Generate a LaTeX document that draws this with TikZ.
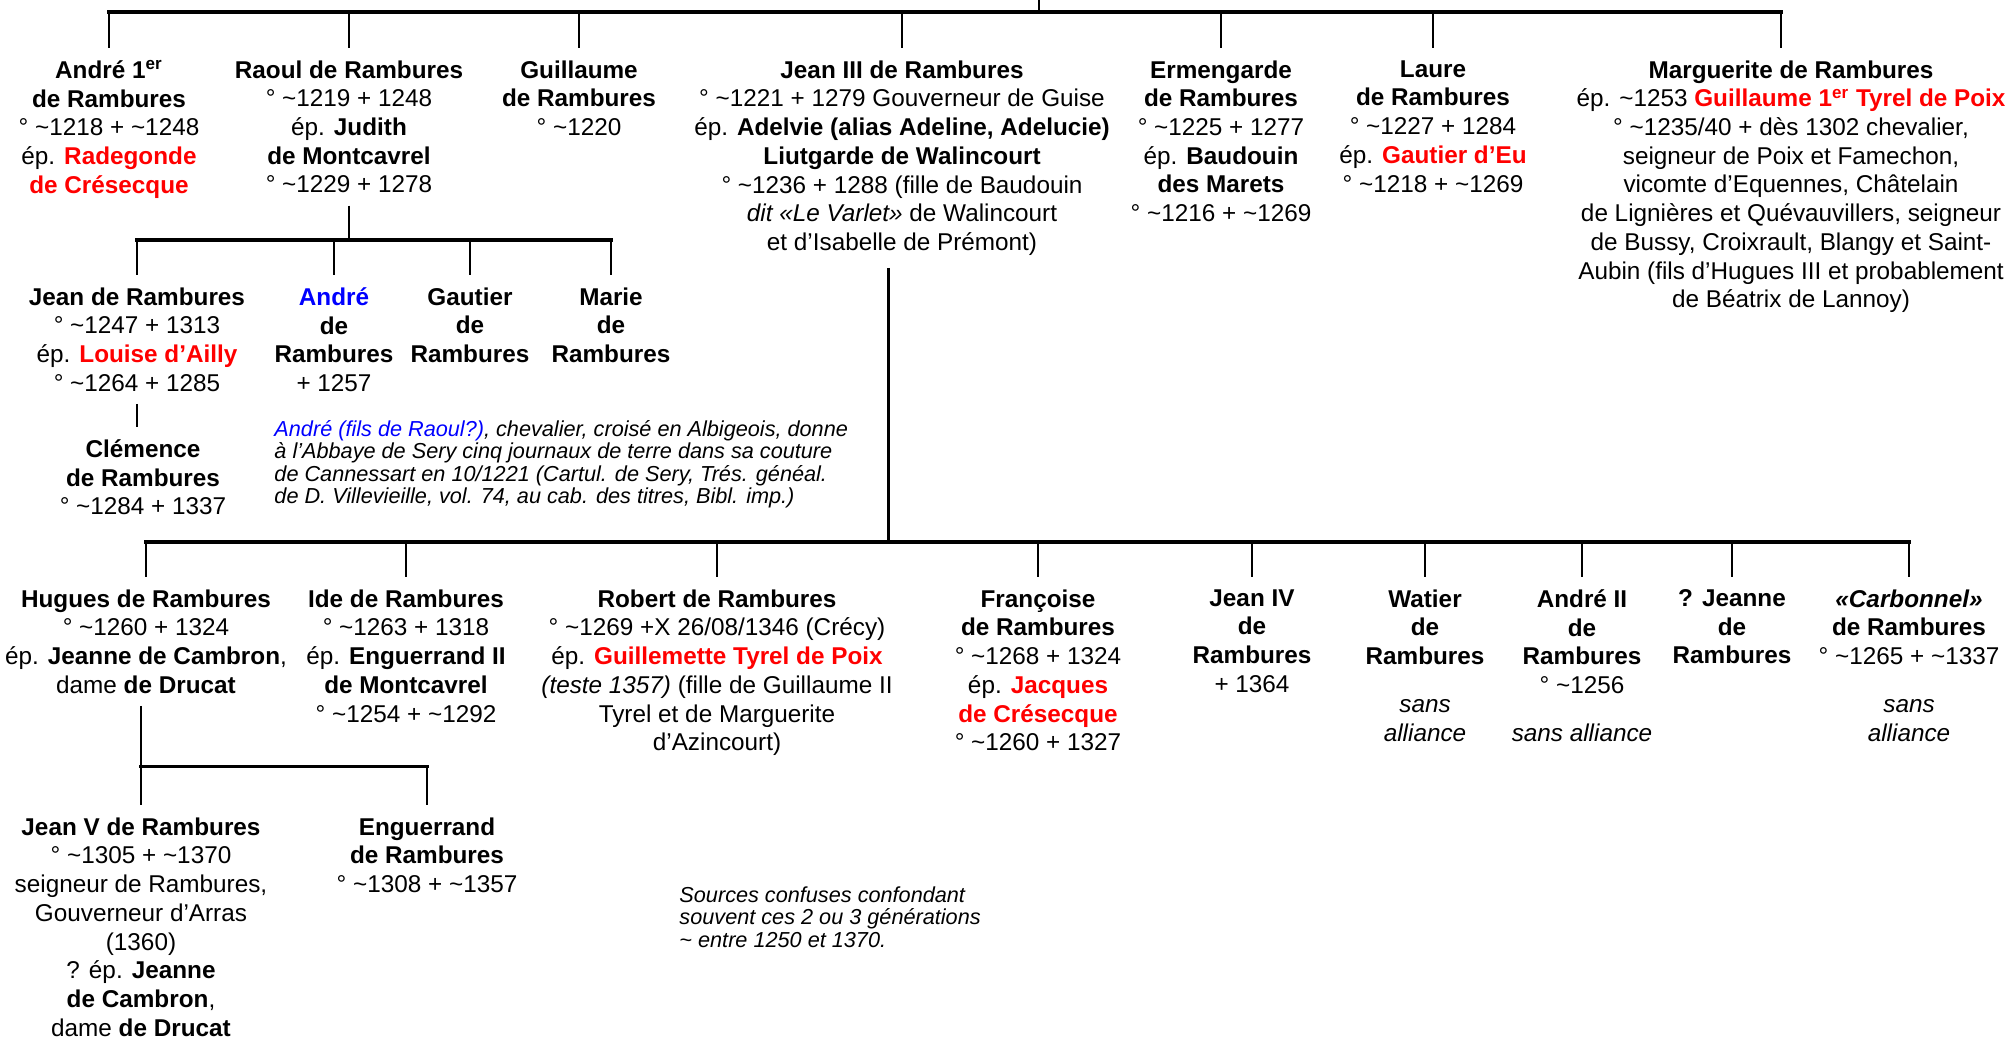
\documentclass[tikz,border=0pt]{standalone}
\usepackage{fontspec}
\setmainfont{Liberation Sans}
\usepackage{xcolor}
\usepackage{tikz}
\definecolor{spred}{HTML}{FF0000}
\definecolor{noteblue}{HTML}{0000FF}
\newcommand{\tld}{\textasciitilde}
\newcommand{\spouse}[1]{\textcolor{spred}{\bfseries #1}}
\tikzset{
  person/.style={anchor=north, align=center, inner xsep=0pt, inner ysep=0.18cm,
                 font=\fontsize{10.37}{12.26}\selectfont},
  note/.style={anchor=north west, align=left, inner sep=0pt,
               font=\fontsize{9.25}{9.57}\selectfont\itshape},
  bar/.style={line width=1.3pt, line cap=rect},
  link/.style={line width=1.1pt},
}

\begin{document}
\begin{tikzpicture}[x=0.015cm, y=-0.015cm]
  \useasboundingbox (0,0) rectangle (2007,1038);

  % -- first generation ---------------------------------------------------
  \node[person] (andre) at (109,48) {\textbf{André 1\textsuperscript{er}}\\ \textbf{de Rambures}\\ ° \tld1218 + \tld1248\\ ép. \spouse{Radegonde}\\ \spouse{de Crésecque}};
  \node[person] (raoul) at (349,48) {\textbf{Raoul de Rambures}\\ ° \tld1219 + 1248\\ ép. \textbf{Judith}\\ \textbf{de Montcavrel}\\ ° \tld1229 + 1278};
  \node[person] (guillaume) at (579,48) {\textbf{Guillaume}\\ \textbf{de Rambures}\\ ° \tld1220};
  \node[person] (jean3) at (902,48) {\textbf{Jean III de Rambures}\\ ° \tld1221 + 1279 Gouverneur de Guise\\ ép. \textbf{Adelvie (alias Adeline, Adelucie)}\\ \textbf{Liutgarde de Walincourt}\\ ° \tld1236 + 1288 (fille de Baudouin\\ \textit{dit «Le Varlet»} de Walincourt\\ et d’Isabelle de Prémont)};
  \node[person] (ermengarde) at (1221,48) {\textbf{Ermengarde}\\ \textbf{de Rambures}\\ ° \tld1225 + 1277\\ ép. \textbf{Baudouin}\\ \textbf{des Marets}\\ ° \tld1216 + \tld1269};
  \node[person] (laure) at (1433,48) {\textbf{Laure}\\ \textbf{de Rambures}\\ ° \tld1227 + 1284\\ ép. \spouse{Gautier d’Eu}\\ ° \tld1218 + \tld1269};
  \node[person] (marguerite) at (1791,48) {\textbf{Marguerite de Rambures}\\ ép. \tld1253 \spouse{Guillaume 1\textsuperscript{er} Tyrel de Poix}\\ ° \tld1235/40 + dès 1302 chevalier,\\ seigneur de Poix et Famechon,\\ vicomte d’Equennes, Châtelain\\ de Lignières et Quévauvillers, seigneur\\ de Bussy, Croixrault, Blangy et Saint-\\ Aubin (fils d’Hugues III et probablement\\ de Béatrix de Lannoy)};

  % -- Raoul's line -----------------------------------------------------------
  \node[person] (jean) at (137,275) {\textbf{Jean de Rambures}\\ ° \tld1247 + 1313\\ ép. \spouse{Louise d’Ailly}\\ ° \tld1264 + 1285};
  \node[person] (andreb) at (334,275) {\textcolor{noteblue}{\bfseries André}\\ \textbf{de}\\ \textbf{Rambures}\\ + 1257};
  \node[person] (gautier) at (470,275) {\textbf{Gautier}\\ \textbf{de}\\ \textbf{Rambures}};
  \node[person] (marie) at (611,275) {\textbf{Marie}\\ \textbf{de}\\ \textbf{Rambures}};
  \node[person] (clemence) at (143,427) {\textbf{Clémence}\\ \textbf{de Rambures}\\ ° \tld1284 + 1337};
  \node[note] (noteandre) at (274,420) {\textcolor{noteblue}{André (fils de Raoul?)}, chevalier, croisé en Albigeois, donne\\ à l’Abbaye de Sery cinq journaux de terre dans sa couture\\ de Cannessart en 10/1221 (Cartul. de Sery, Trés. généal.\\ de D. Villevieille, vol. 74, au cab. des titres, Bibl. imp.)};

  % -- children of Jean III --------------------------------------------------
  \node[person] (hugues) at (146,577) {\textbf{Hugues de Rambures}\\ ° \tld1260 + 1324\\ ép. \textbf{Jeanne de Cambron},\\ dame \textbf{de Drucat}};
  \node[person] (ide) at (406,577) {\textbf{Ide de Rambures}\\ ° \tld1263 + 1318\\ ép. \textbf{Enguerrand II}\\ \textbf{de Montcavrel}\\ ° \tld1254 + \tld1292};
  \node[person] (robert) at (717,577) {\textbf{Robert de Rambures}\\ ° \tld1269 +X 26/08/1346 (Crécy)\\ ép. \spouse{Guillemette Tyrel de Poix}\\ \textit{(teste 1357)} (fille de Guillaume II\\ Tyrel et de Marguerite\\ d’Azincourt)};
  \node[person] (francoise) at (1038,577) {\textbf{Françoise}\\ \textbf{de Rambures}\\ ° \tld1268 + 1324\\ ép. \spouse{Jacques}\\ \spouse{de Crésecque}\\ ° \tld1260 + 1327};
  \node[person] (jean4) at (1252,577) {\textbf{Jean IV}\\ \textbf{de}\\ \textbf{Rambures}\\ + 1364};
  \node[person] (watier) at (1425,577) {\textbf{Watier}\\ \textbf{de}\\ \textbf{Rambures}\\[0.29cm] \textit{sans}\\ \textit{alliance}};
  \node[person] (andre2) at (1582,577) {\textbf{André II}\\ \textbf{de}\\ \textbf{Rambures}\\ ° \tld1256\\[0.29cm] \textit{sans alliance}};
  \node[person] (jeanne) at (1732,577) {\textbf{? Jeanne}\\ \textbf{de}\\ \textbf{Rambures}};
  \node[person] (carbonnel) at (1909,577) {\textbf{\textit{«Carbonnel»}}\\ \textbf{de Rambures}\\ ° \tld1265 + \tld1337\\[0.29cm] \textit{sans}\\ \textit{alliance}};

  % -- children of Hugues ----------------------------------------------------
  \node[person] (jean5) at (141,805) {\textbf{Jean V de Rambures}\\ ° \tld1305 + \tld1370\\ seigneur de Rambures,\\ Gouverneur d’Arras\\ (1360)\\ ? ép. \textbf{Jeanne}\\ \textbf{de Cambron},\\ dame \textbf{de Drucat}};
  \node[person] (enguerrand) at (427,805) {\textbf{Enguerrand}\\ \textbf{de Rambures}\\ ° \tld1308 + \tld1357};
  \node[note] (notesources) at (679,886) {Sources confuses confondant\\ souvent ces 2 ou 3 générations\\ \tld{} entre 1250 et 1370.};

  % -- the bars the drops hang from -------------------------------------------
  \coordinate (root) at (1039,0);
  \coordinate (topbar) at (0,12);
  \coordinate (raoulbar) at (0,240);
  \coordinate (jeanbar) at (0,542);
  \coordinate (huguesbar) at (0,766);
  \coordinate (mtop) at ([xshift=-0.15cm]marguerite.north);
  \coordinate (jfoot) at ([xshift=-0.2cm]jean3.south);

  \draw[link] (root) -- (root |- topbar);
  \draw[bar] (andre.north |- topbar) -- (mtop |- topbar);
  \foreach \n in {andre,raoul,guillaume,jean3,ermengarde,laure}{
    \draw[link] (\n.north |- topbar) -- (\n.north);}
  \draw[link] (mtop |- topbar) -- (mtop);

  \draw[link] (raoul.south) -- (raoul.south |- raoulbar);
  \draw[bar] (jean.north |- raoulbar) -- (marie.north |- raoulbar);
  \foreach \n in {jean,andreb,gautier,marie}{
    \draw[link] (\n.north |- raoulbar) -- (\n.north);}
  \draw[link] (jean.south) -- (jean.south |- clemence.north);

  \draw[link] (jfoot) -- (jfoot |- jeanbar);
  \draw[bar] (hugues.north |- jeanbar) -- (carbonnel.north |- jeanbar);
  \foreach \n in {hugues,ide,robert,francoise,jean4,watier,andre2,jeanne,carbonnel}{
    \draw[link] (\n.north |- jeanbar) -- (\n.north);}

  \draw[link] (hugues.south -| jean5.north) -- (jean5.north |- huguesbar);
  \draw[bar] (jean5.north |- huguesbar) -- (enguerrand.north |- huguesbar);
  \foreach \n in {jean5,enguerrand}{
    \draw[link] (\n.north |- huguesbar) -- (\n.north);}

\end{tikzpicture}
\end{document}
